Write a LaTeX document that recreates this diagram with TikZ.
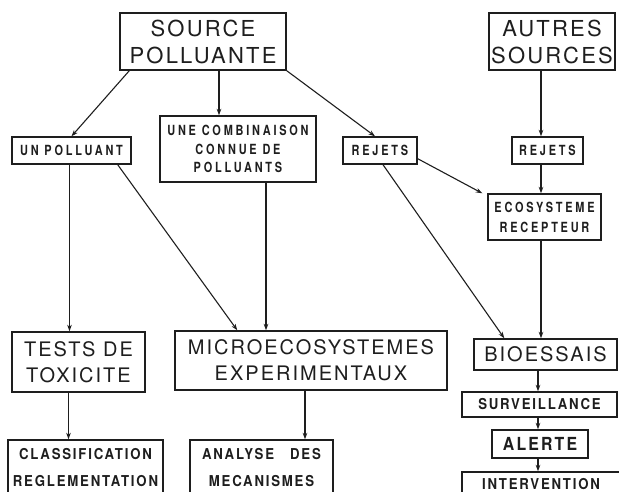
\documentclass[tikz,border=0pt]{standalone}
\usepackage{fontspec}
\usetikzlibrary{arrows.meta}
\newfontfamily\bigfont[LetterSpace=10]{TeX Gyre Heros}
\newfontfamily\tagfont[FakeStretch=0.78,LetterSpace=20]{TeX Gyre Heros}
\newfontfamily\widefont[FakeStretch=0.88,LetterSpace=12]{TeX Gyre Heros}
\definecolor{ink}{RGB}{30,30,30}

\begin{document}
\begin{tikzpicture}[
    x=1pt, y=-1pt,
    >={Stealth[length=6.5pt,width=4.6pt]},
    box/.style={draw=ink, line width=1.4pt, inner sep=0pt, align=center, text=ink},
    L/.style={box, font=\bigfont\fontsize{22}{27}\selectfont},
    M/.style={box, font=\bigfont\fontsize{20}{26}\selectfont},
    S/.style={box, font=\tagfont\bfseries\fontsize{14}{19}\selectfont},
    T/.style={box, font=\widefont\bfseries\fontsize{15}{27}\selectfont},
    con/.style={->, draw=ink, line width=1.1pt},
  ]

  \fill[white] (0,0) rectangle (619,492);
  \useasboundingbox (0,0) rectangle (619,492);
  \clip (0,0) rectangle (619,492);

  % sources
  \node[L, minimum width=166pt, minimum height=57pt] (source) at (203,41.5) {SOURCE\\POLLUANTE};
  \node[L, minimum width=126pt, minimum height=57pt] (autres) at (552,41.5) {AUTRES\\SOURCES};

  % second row
  \node[S, minimum width=119pt, minimum height=27pt] (unpol) at (71.5,150.5) {UN POLLUANT};
  \node[S, minimum width=156pt, minimum height=66pt, font=\tagfont\bfseries\fontsize{14}{18.5}\selectfont]
    (combi) at (238,149) {UNE COMBINAISON\\CONNUE DE\\POLLUANTS};
  \node[S, minimum width=74pt, minimum height=27pt] (rejL) at (380,150.5) {REJETS};
  \node[S, minimum width=71pt, minimum height=27pt] (rejR) at (547.5,150.5) {REJETS};
  \node[S, minimum width=113pt, minimum height=46pt, font=\tagfont\bfseries\fontsize{14}{20}\selectfont]
    (ecosys) at (544.5,217) {ECOSYSTEME\\RECEPTEUR};

  % methods
  \node[M, minimum width=133pt, minimum height=60pt] (tests) at (78.5,362) {TESTS DE\\TOXICITE};
  \node[M, minimum width=272pt, minimum height=59pt] (micro) at (311,360.5) {MICROECOSYSTEMES\\EXPERIMENTAUX};
  \node[M, minimum width=143pt, minimum height=31pt] (bio) at (545.5,354.5) {BIOESSAIS};

  % outcomes
  \node[T, minimum width=155pt, minimum height=25pt] (surv) at (539.5,404.5) {SURVEILLANCE};
  \node[T, minimum width=96pt, minimum height=28pt, font=\widefont\bfseries\fontsize{18}{20}\selectfont]
    (alerte) at (540,444) {ALERTE};
  \node[T, minimum width=158pt, minimum height=24pt] (interv) at (541,484) {INTERVENTION};
  \node[T, minimum width=155pt, minimum height=56pt] (classif) at (85.5,468) {CLASSIFICATION\\REGLEMENTATION};
  \node[T, minimum width=143pt, minimum height=56pt] (analyse) at (261.5,468) {ANALYSE\hspace{16pt}DES\\MECANISMES};

  \coordinate (colR) at (541,0);
  \coordinate (colB) at (538,0);

  % left and middle branches
  \draw[con] ([xshift=10pt]source.south west) -- (unpol.north);
  \draw[con] ([xshift=16pt]source.south) -- ([xshift=16pt]source.south |- combi.north);
  \draw[con] (source.south east) -- ([xshift=-5pt]rejL.north);
  \draw[con] ([xshift=-2pt]unpol.south) -- ([xshift=-2pt]unpol.south |- tests.north);
  \draw[con] ([xshift=-14pt]unpol.south east) -- ([xshift=63pt]micro.north west);
  \draw[con] ([xshift=28pt]combi.south) -- ([xshift=28pt]combi.south |- micro.north);
  \draw[con] ([xshift=-10pt]tests.south) -- ([xshift=-10pt]tests.south |- classif.north);
  \draw[con] ([xshift=-6pt]micro.south) -- ([xshift=-6pt]micro.south |- analyse.north);

  % right branch
  \draw[con] ([yshift=6pt]rejL.south east) -- ([xshift=-5pt]ecosys.north west);
  \draw[con] ([xshift=3pt]rejL.south) -- ([xshift=31pt]bio.north west);
  \draw[con] (autres.south -| colR) -- (rejR.north -| colR);
  \draw[con] (rejR.south -| colR) -- (ecosys.north -| colR);
  \draw[con] (ecosys.south -| colR) -- (bio.north -| colR);
  \draw[con] (bio.south -| colB) -- (surv.north -| colB);
  \draw[con] (surv.south -| colB) -- (alerte.north -| colB);
  \draw[con] (alerte.south -| colB) -- (interv.north -| colB);

\end{tikzpicture}
\end{document}
